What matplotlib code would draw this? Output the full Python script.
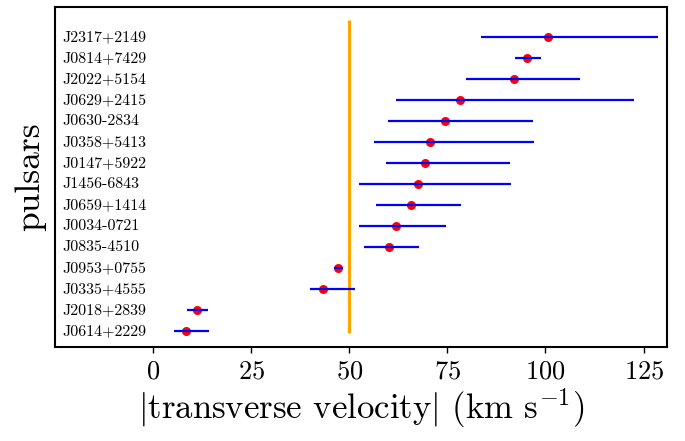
import matplotlib
matplotlib.use("Agg")
import matplotlib.pyplot as plt

plt.rcParams["font.family"] = "serif"
plt.rcParams["font.serif"] = ["cmr10"]
plt.rcParams["mathtext.fontset"] = "cm"
plt.rcParams["axes.formatter.use_mathtext"] = True

# bottom row first
pulsars = ["J0614+2229", "J2018+2839", "J0335+4555", "J0953+0755", "J0835-4510",
           "J0034-0721", "J0659+1414", "J1456-6843", "J0147+5922", "J0358+5413",
           "J0630-2834", "J0629+2415", "J2022+5154", "J0814+7429", "J2317+2149"]
velocity = [8.5, 11.2, 43.2, 47.2, 60.2, 62.0, 65.8, 67.6, 69.2, 70.7,
            74.4, 78.3, 92.1, 95.4, 100.7]
vel_low = [5.4, 8.7, 39.9, 46.1, 53.8, 52.5, 56.8, 52.5, 59.4, 56.3,
           59.9, 61.9, 79.7, 92.2, 83.5]
vel_high = [14.2, 13.9, 51.6, 48.4, 67.9, 74.6, 78.6, 91.3, 91.0, 97.1,
            96.9, 122.6, 108.8, 98.9, 128.7]
threshold = 50

fig = plt.figure(figsize=(6.85, 4.41), dpi=100)
ax = fig.add_axes([0.080, 0.213, 0.894, 0.771])

rows = list(range(len(pulsars)))
ax.scatter(velocity, rows, s=30, color="red", zorder=2)
ax.hlines(rows, vel_low, vel_high, color="blue", lw=1.6, zorder=3)
ax.vlines(threshold, -0.1, 14.8, color="orange", lw=2.2, zorder=1)

for i, name in enumerate(pulsars):
    ax.text(-23, i, name, va="center", ha="left", fontsize=11.5)

ax.set_xlim(-25, 131)
ax.set_ylim(-0.76, 15.43)
ax.set_xticks([0, 25, 50, 75, 100, 125])
ax.set_yticks([])
ax.tick_params(axis="x", labelsize=19, length=4, width=1, pad=5)
for sp in ax.spines.values():
    sp.set_linewidth(1.5)

ax.set_xlabel(r"$|$transverse velocity$|$ (km s$^{-1}$)", fontsize=25, labelpad=2)
ax.set_ylabel("pulsars", fontsize=25.5, labelpad=6)

fig.savefig("out.png", dpi=100)
